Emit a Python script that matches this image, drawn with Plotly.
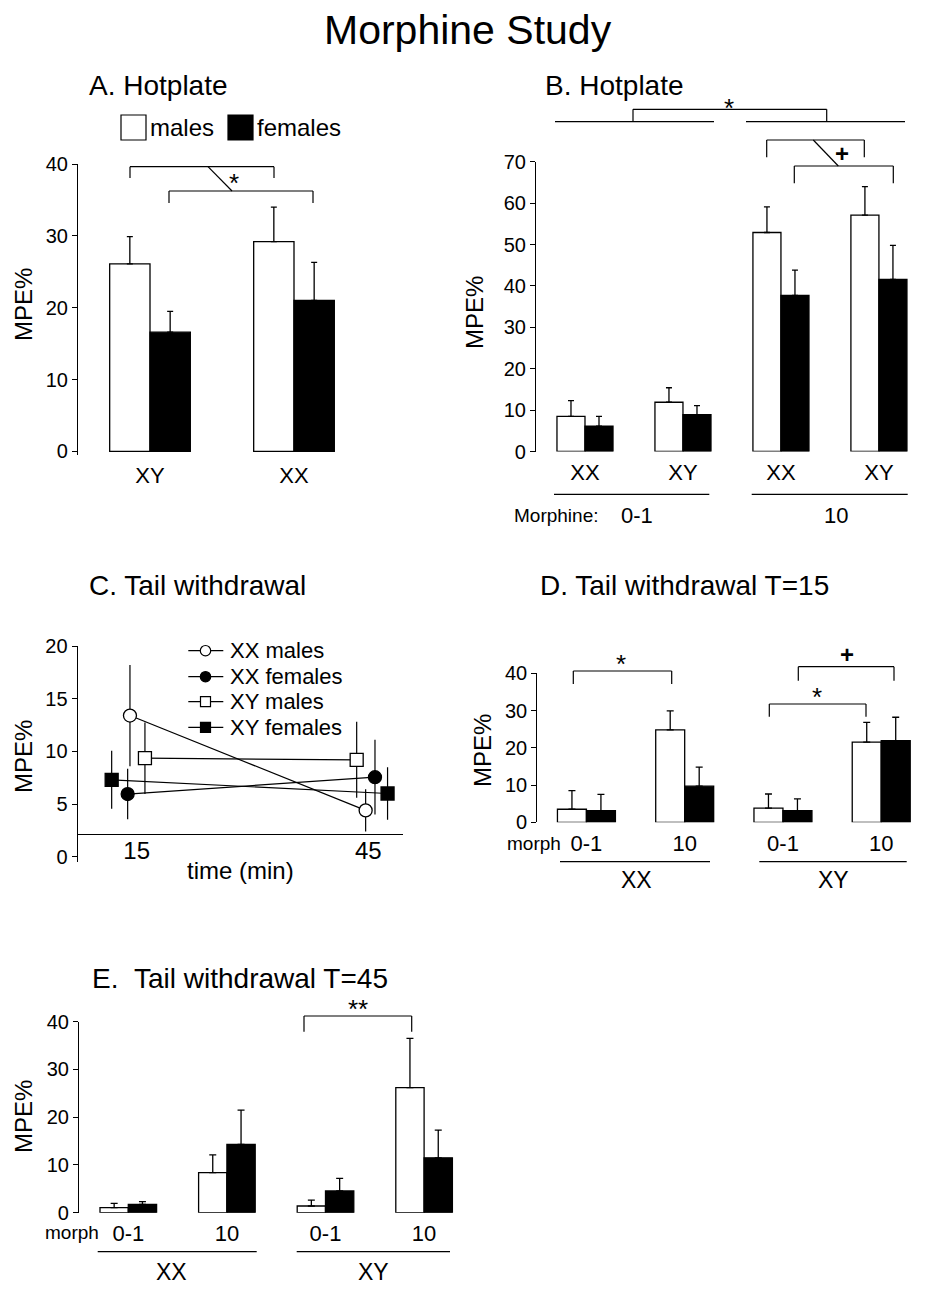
import plotly.graph_objects as go

W, H = 930, 1292
FONT = "Liberation Sans, Arial, sans-serif"
# page offset of the plot inside the browser (body margin)
OX, OY = 8, 8


def X(px):
    return (px - OX) / W


def Y(py):
    return 1 - (py - OY) / H


# ---------------- DATA ----------------
# Panel A: Hotplate
a_groups = ["XY", "XX"]
a_males = [26.1, 29.2]
a_males_err = [3.8, 4.8]
a_females = [16.6, 21.0]
a_females_err = [2.9, 5.3]

# Panel B: Hotplate by morphine dose
b_groups = ["XX", "XY", "XX", "XY"]
b_males = [8.5, 11.9, 52.9, 57.1]
b_males_err = [3.8, 3.5, 6.2, 6.9]
b_females = [6.1, 8.9, 37.7, 41.6]
b_females_err = [2.4, 2.2, 6.1, 8.2]

# Panel C: Tail withdrawal time course
c_times = [15, 45]
c_xx_males = [13.4, 4.4]
c_xx_males_err = [4.8, 2.0]
c_xx_females = [5.95, 7.55]
c_xx_females_err = [2.4, 3.55]
c_xy_males = [9.35, 9.2]
c_xy_males_err = [3.4, 3.6]
c_xy_females = [7.3, 6.0]
c_xy_females_err = [2.75, 2.5]

# Panel D: Tail withdrawal T=15
d_doses = ["0-1", "10", "0-1", "10"]
d_males = [3.5, 24.8, 3.8, 21.5]
d_males_err = [5.0, 5.1, 3.8, 5.3]
d_females = [3.1, 9.7, 3.1, 21.9]
d_females_err = [4.4, 5.1, 3.2, 6.3]

# Panel E: Tail withdrawal T=45
e_doses = ["0-1", "10", "0-1", "10"]
e_males = [1.05, 8.4, 1.4, 26.2]
e_males_err = [0.9, 3.7, 1.25, 10.3]
e_females = [1.75, 14.3, 4.55, 11.5]
e_females_err = [0.55, 7.2, 2.65, 5.8]

# ---------------- STYLE ----------------
# horizontal jitter (minutes) used in panel C so points do not overlap
C_JITTER = {
    "xx_m": [-0.87, -0.34],
    "xx_f": [-1.17, 0.87],
    "xy_m": [1.07, -1.5],
    "xy_f": [-3.24, 2.5],
}

fig = go.Figure()


def add_bars(xa, ya, males, males_err, females, females_err, width, cap=3):
    xs = list(range(len(males)))
    for vals, errs, color, off in (
        (males, males_err, "white", -width),
        (females, females_err, "black", 0.0),
    ):
        fig.add_trace(go.Bar(
            x=xs, y=vals, width=width, offset=off,
            marker=dict(color=color, line=dict(color="black", width=1.3)),
            error_y=dict(type="data", symmetric=False, array=errs,
                         arrayminus=[0] * len(errs), color="black",
                         thickness=1.3, width=cap),
            xaxis=xa, yaxis=ya, showlegend=False, hoverinfo="skip",
        ))


add_bars("x", "y", a_males, a_males_err, a_females, a_females_err, 0.28)
add_bars("x2", "y2", b_males, b_males_err, b_females, b_females_err, 0.286)
add_bars("x4", "y4", d_males, d_males_err, d_females, d_females_err, 0.295, cap=3.5)
add_bars("x5", "y5", e_males, e_males_err, e_females, e_females_err, 0.287, cap=3.5)

# Panel C lines
c_series = [
    ("XX males", c_xx_males, c_xx_males_err, "xx_m", "circle", "white"),
    ("XX females", c_xx_females, c_xx_females_err, "xx_f", "circle", "black"),
    ("XY males", c_xy_males, c_xy_males_err, "xy_m", "square", "white"),
    ("XY females", c_xy_females, c_xy_females_err, "xy_f", "square", "black"),
]
for name, vals, errs, key, sym, fill in c_series:
    xs = [t + j for t, j in zip(c_times, C_JITTER[key])]
    fig.add_trace(go.Scatter(
        x=xs, y=vals, name=name, mode="lines+markers",
        line=dict(color="black", width=1.2),
        marker=dict(symbol=sym, size=13, color=fill,
                    line=dict(color="black", width=1.3)),
        error_y=dict(type="data", array=errs, color="black", thickness=1.2, width=0),
        xaxis="x3", yaxis="y3", showlegend=False, hoverinfo="skip",
    ))

axis_common = dict(showgrid=False, zeroline=False, fixedrange=True, automargin=False)
yax = dict(axis_common, showline=True, linecolor="black", linewidth=1.2,
           ticks="outside", ticklen=5, tickwidth=1.2, tickcolor="black",
           tickfont=dict(size=20, color="black", family=FONT))
xbar = dict(axis_common, showline=False, ticks="outside", ticklen=1,
            tickcolor="rgba(0,0,0,0)", tickfont=dict(size=22, color="black", family=FONT))

layout = dict(
    width=W, height=H, margin=dict(l=0, r=0, t=0, b=0, pad=0, autoexpand=False),
    paper_bgcolor="white", plot_bgcolor="white",
    barmode="overlay", showlegend=False,
    font=dict(family=FONT, color="black"),
    # A
    xaxis=dict(xbar, domain=[X(78), X(366)], range=[-0.5, 1.5],
               tickvals=[0, 1], ticktext=a_groups, anchor="y"),
    yaxis=dict(yax, domain=[Y(455), Y(164)], range=[-0.5, 40],
               tickvals=[0, 10, 20, 30, 40], anchor="x"),
    # B
    xaxis2=dict(xbar, domain=[X(536), X(924)], range=[-0.5, 3.46],
                tickvals=[0, 1, 2, 3], ticktext=b_groups, anchor="y2"),
    yaxis2=dict(yax, domain=[Y(451.5), Y(161.7)], range=[0, 70],
                tickvals=list(range(0, 71, 10)), anchor="x2"),
    # C
    xaxis3=dict(axis_common, domain=[X(77.7), X(403)], range=[7.36, 49.5],
                anchor="free", position=Y(834), showline=True, linecolor="black",
                linewidth=1.2, ticks="", tickvals=c_times, ticklabelstandoff=-5,
                ticktext=[str(t) for t in c_times],
                tickfont=dict(size=24, color="black", family=FONT)),
    yaxis3=dict(yax, domain=[Y(861.7), Y(646)], range=[-0.47, 20],
                tickvals=[0, 5, 10, 15, 20], anchor="x3"),
    # D
    xaxis4=dict(xbar, domain=[X(537.3), X(922)], range=[-0.5, 3.415],
                tickvals=[0, 1, 2, 3], ticktext=d_doses, anchor="y4"),
    yaxis4=dict(yax, domain=[Y(822.3), Y(673.3)], range=[0, 40],
                tickvals=[0, 10, 20, 30, 40], anchor="x4"),
    # E
    xaxis5=dict(xbar, domain=[X(79), X(473.4)], range=[-0.5, 3.5],
                tickvals=[0, 1, 2, 3], ticktext=e_doses, anchor="y5"),
    yaxis5=dict(yax, domain=[Y(1212.7), Y(1021.7)], range=[0, 40],
                tickvals=[0, 10, 20, 30, 40], anchor="x5"),
)
fig.update_layout(**layout)

shapes = []
annotations = []


def line(x0, y0, x1, y1, w=1.2):
    shapes.append(dict(type="line", xref="paper", yref="paper",
                       x0=X(x0), y0=Y(y0), x1=X(x1), y1=Y(y1),
                       line=dict(color="black", width=w)))


def bracket(xl, xr, ytop, ybot):
    line(xl, ybot, xl, ytop)
    line(xl, ytop, xr, ytop)
    line(xr, ytop, xr, ybot)


def text(s, x, y, size, xanchor="center", yanchor="middle", angle=0):
    annotations.append(dict(text=s, x=X(x), y=Y(y), xref="paper", yref="paper",
                            xanchor=xanchor, yanchor=yanchor, showarrow=False,
                            textangle=angle,
                            font=dict(size=size, color="black", family=FONT)))


def rect(x0, y0, x1, y1, fill):
    shapes.append(dict(type="rect", xref="paper", yref="paper",
                       x0=X(x0), y0=Y(y0), x1=X(x1), y1=Y(y1),
                       fillcolor=fill, line=dict(color="black", width=1.2)))


def circ(cx, cy, r, fill):
    shapes.append(dict(type="circle", xref="paper", yref="paper",
                       x0=X(cx - r), y0=Y(cy + r), x1=X(cx + r), y1=Y(cy - r),
                       fillcolor=fill, line=dict(color="black", width=1.2)))


# Titles
text("Morphine Study", 468, 30, 41)
text("A. Hotplate", 87, 85, 28, xanchor="left")
text("B. Hotplate", 542.7, 85, 28, xanchor="left")
text("C. Tail withdrawal", 86.7, 585, 28, xanchor="left")
text("D. Tail withdrawal T=15", 538.3, 585, 28, xanchor="left")
text("E.&nbsp;&nbsp;Tail withdrawal T=45", 90, 978.3, 28, xanchor="left")

# y titles
for x, y in ((23, 305), (474, 313), (23, 757), (482, 750), (23, 1117)):
    text("MPE%", x, y, 24, angle=-90)

# Legend A
rect(121, 115, 146, 140, "white")
text("males", 148, 127.5, 24, xanchor="left")
rect(228, 115, 253, 140, "black")
text("females", 255, 127.5, 24, xanchor="left")

# Panel A significance
bracket(130, 274, 166.7, 178)
bracket(169, 313, 191, 203)
line(208, 166.7, 232, 191)
text("*", 234, 183, 26)

# Panel B brackets and labels
line(555, 121.7, 714, 121.7)
line(746, 121.7, 905, 121.7)
bracket(633, 826.7, 109.3, 121.7)
text("*", 729, 108, 26)
bracket(766.7, 864.3, 140, 157.3)
bracket(794.3, 893.3, 166, 183.3)
line(813.3, 140, 838.3, 166)
text("<b>+</b>", 841.7, 153.3, 24)
line(554, 494.3, 709.3, 494.3)
line(751.7, 494.3, 907.7, 494.3)
text("Morphine:", 511.7, 515, 19, xanchor="left")
text("0-1", 636.7, 515, 22)
text("10", 835.8, 515, 22)

# Panel C legend + x title
leg_rows = [650.7, 676.7, 701.7, 727.3]
for (name, _, _, _, sym, fill), ry in zip(c_series, leg_rows):
    line(188.3, ry, 223.3, ry)
    if sym == "circle":
        circ(205.5, ry, 5.2, fill)
    else:
        rect(200.5, ry - 5, 210.5, ry + 5, fill)
    text(name, 228.3, ry, 22, xanchor="left")
text("time (min)", 240, 870, 24)

# Panel D
bracket(573.3, 671.7, 671, 684)
text("*", 620.7, 664, 26)
bracket(769.3, 866, 704, 716.7)
text("*", 816.7, 697.5, 26)
bracket(798.3, 894, 666.7, 680.7)
text("<b>+</b>", 846.7, 654.3, 24)
text("morph", 505, 843.3, 19, xanchor="left")
line(560, 861.7, 710, 861.7)
line(759.3, 861.7, 906.7, 861.7)
text("XX", 636.7, 880, 23)
text("XY", 833.3, 880, 23)

# Panel E
bracket(304, 411.7, 1016, 1031.7)
text("**", 358.3, 1009, 26)
text("morph", 43, 1232.7, 19, xanchor="left")
line(97.7, 1251.7, 256.7, 1251.7)
line(296.7, 1251.7, 450, 1251.7)
text("XX", 171.7, 1271.7, 23)
text("XY", 373.3, 1271.7, 23)

fig.update_layout(shapes=shapes, annotations=annotations)
fig.write_html("out.html")
